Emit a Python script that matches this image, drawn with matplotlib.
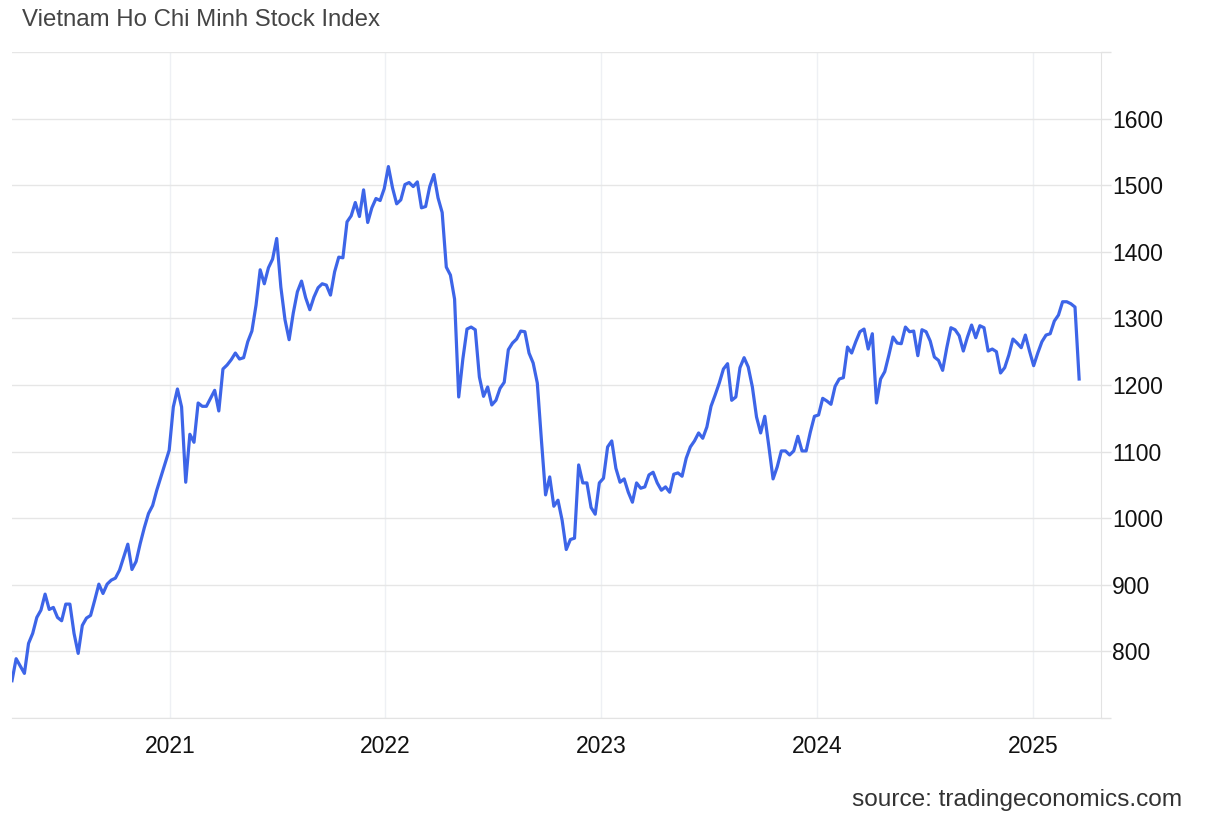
import matplotlib
matplotlib.use("Agg")
import matplotlib.pyplot as plt
import matplotlib.dates as mdates
import pandas as pd

# weekly closes (week number counted from start_date)
start_date = "2020-04-09"
end_limit = "2025-04-26"
weeks = [0, 1, 3, 4, 5, 6, 7, 8, 9, 10, 11, 12, 13, 14, 15, 16, 17, 18, 19, 20,
         21, 22, 23, 24, 25, 26, 28, 29, 30, 31, 32, 33, 34, 35, 36, 38, 39, 40, 41, 42,
         43, 44, 45, 46, 47, 49, 50, 51, 52, 53, 54, 55, 56, 57, 58, 59, 60, 61, 62, 63,
         64, 65, 66, 67, 68, 69, 70, 71, 72, 73, 74, 75, 76, 77, 78, 79, 80, 81, 82, 83,
         84, 85, 86, 87, 88, 89, 90, 91, 92, 93, 94, 95, 96, 97, 98, 99, 100, 101, 102, 103,
         104, 105, 106, 107, 108, 109, 110, 111, 112, 113, 114, 115, 116, 117, 118, 119, 120, 121, 122, 123,
         124, 125, 126, 127, 128, 129, 130, 131, 132, 133, 134, 135, 136, 137, 138, 139, 140, 141, 142, 143,
         144, 145, 146, 147, 148, 149, 150, 151, 152, 153, 154, 155, 156, 157, 158, 159, 160, 161, 162, 163,
         164, 165, 166, 167, 168, 169, 170, 171, 172, 173, 174, 175, 176, 177, 178, 179, 180, 181, 182, 183,
         184, 185, 186, 187, 188, 189, 190, 191, 192, 193, 194, 195, 196, 197, 198, 199, 200, 201, 202, 203,
         204, 205, 206, 207, 208, 209, 210, 211, 212, 213, 214, 215, 216, 217, 218, 219, 220, 221, 222, 223,
         224, 225, 226, 227, 228, 229, 230, 231, 232, 233, 234, 235, 236, 237, 238, 239, 240, 241, 242, 243,
         244, 245, 246, 247, 248, 249, 250, 251, 252, 253, 254, 255, 256, 257, 258]
values = [756, 789, 767, 812, 827, 851, 862, 886, 863, 866, 851, 846, 871, 871, 827, 797, 839, 850, 854, 877,
          901, 887, 901, 907, 910, 922, 961, 923, 935, 962, 986, 1007, 1019, 1042, 1062, 1102, 1167, 1194, 1167, 1054,
          1126, 1114, 1173, 1168, 1168, 1192, 1161, 1224, 1230, 1238, 1248, 1239, 1241, 1265, 1281, 1320, 1373, 1352, 1376, 1389,
          1420, 1347, 1298, 1268, 1308, 1340, 1356, 1331, 1313, 1332, 1346, 1352, 1350, 1335, 1370, 1392, 1391, 1445, 1454, 1474,
          1453, 1493, 1444, 1466, 1480, 1477, 1495, 1528, 1496, 1472, 1478, 1501, 1504, 1498, 1505, 1466, 1468, 1498, 1516, 1481,
          1459, 1377, 1365, 1329, 1182, 1239, 1284, 1287, 1283, 1212, 1183, 1197, 1170, 1177, 1195, 1204, 1253, 1263, 1269, 1281,
          1280, 1248, 1233, 1203, 1117, 1035, 1062, 1018, 1027, 997, 953, 968, 970, 1080, 1053, 1053, 1016, 1006, 1053, 1060,
          1107, 1116, 1075, 1054, 1059, 1039, 1024, 1053, 1045, 1047, 1065, 1069, 1053, 1042, 1047, 1039, 1066, 1068, 1063, 1090,
          1107, 1116, 1128, 1120, 1137, 1168, 1185, 1203, 1224, 1232, 1177, 1182, 1226, 1241, 1227, 1197, 1152, 1128, 1153, 1107,
          1059, 1077, 1101, 1101, 1095, 1101, 1123, 1101, 1101, 1129, 1153, 1155, 1180, 1176, 1171, 1198, 1209, 1211, 1257, 1248,
          1265, 1280, 1284, 1254, 1277, 1173, 1209, 1220, 1245, 1272, 1263, 1262, 1287, 1280, 1281, 1244, 1283, 1280, 1266, 1242,
          1237, 1222, 1256, 1286, 1283, 1274, 1251, 1272, 1290, 1271, 1289, 1286, 1251, 1254, 1250, 1218, 1226, 1245, 1269, 1263,
          1256, 1275, 1251, 1229, 1248, 1265, 1275, 1277, 1296, 1305, 1325, 1325, 1322, 1317, 1209]

y_ticks = [700, 800, 900, 1000, 1100, 1200, 1300, 1400, 1500, 1600, 1700]
year_ticks = ["2021-01-01", "2022-01-01", "2023-01-01", "2024-01-01", "2025-01-01"]

dates = pd.to_datetime(start_date) + pd.to_timedelta([w * 7 for w in weeks], unit="D")

plt.rcParams['font.family'] = ['Liberation Sans', 'DejaVu Sans']

fig = plt.figure(figsize=(12.22, 8.38), dpi=100)
ax = fig.add_axes([12 / 1222, 120 / 838, 1089 / 1222, 666 / 838])

ax.plot(dates, values, color='#3d65e8', linewidth=2.3, solid_joinstyle='round', zorder=3)

ax.set_xlim(pd.to_datetime(start_date), pd.to_datetime(end_limit))
ax.set_ylim(700, 1700)

ax.set_yticks(y_ticks)
ax.set_yticklabels(["" if t in (700, 1700) else str(t) for t in y_ticks])
ax.set_xticks(pd.to_datetime(year_ticks))
ax.xaxis.set_major_formatter(mdates.DateFormatter('%Y'))

ax.yaxis.tick_right()
ax.tick_params(axis='y', length=7, width=1, color='#e3e3e3', pad=1, labelsize=16.5, labelcolor='#111111')
ax.tick_params(axis='x', length=0, pad=12, labelsize=16.5, labelcolor='#111111')

ax.grid(axis='y', color='#e6e6e6', linewidth=1)
ax.grid(axis='x', color='#eef0f4', linewidth=1)
ax.set_axisbelow(True)

for side in ['top', 'left']:
    ax.spines[side].set_visible(False)
ax.spines['bottom'].set_color('#e3e3e3')
ax.spines['right'].set_color('#e3e3e3')

fig.text(22 / 1222, 1 - 20 / 838, "Vietnam Ho Chi Minh Stock Index", fontsize=17.3,
         color='#444444', va='center', ha='left')
fig.text(1182 / 1222, 1 - 800 / 838, "source: tradingeconomics.com", fontsize=17.6,
         color='#333333', va='center', ha='right')

fig.savefig("out.png", dpi=100)
